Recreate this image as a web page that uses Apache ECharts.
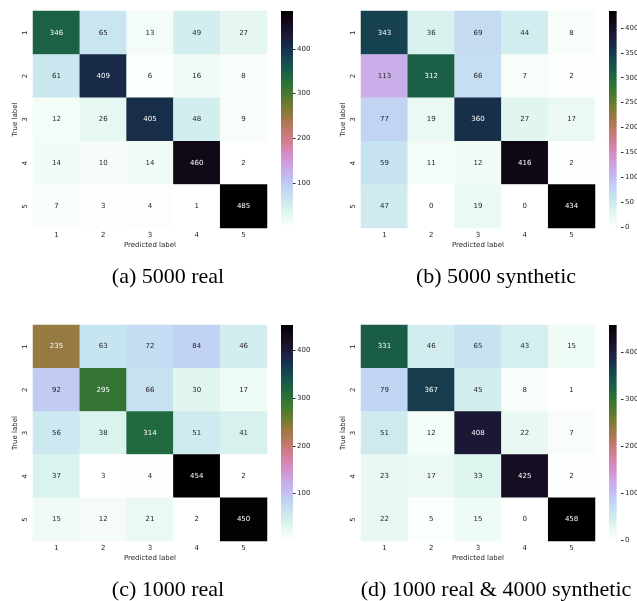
<!DOCTYPE html>
<html>
<head>
  <meta charset="UTF-8">
  <title>confusion matrices</title>
  <script src="https://cdn.jsdelivr.net/npm/echarts@6/dist/echarts.min.js"></script>
  <style>
    *{margin:0;padding:0;}
    body{background:#fff;}
    #main{width:637px;height:601px;}
  </style>
</head>
<body>
<div id="main"></div>
<script>
// class labels
var classes = ['1', '2', '3', '4', '5'];

// confusion matrices (rows = true label, cols = predicted label)
var real5000 = [
  [346, 65, 13, 49, 27],
  [61, 409, 6, 16, 8],
  [12, 26, 405, 48, 9],
  [14, 10, 14, 460, 2],
  [7, 3, 4, 1, 485]
];
var synth5000 = [
  [343, 36, 69, 44, 8],
  [113, 312, 66, 7, 2],
  [77, 19, 360, 27, 17],
  [59, 11, 12, 416, 2],
  [47, 0, 19, 0, 434]
];
var real1000 = [
  [235, 63, 72, 84, 46],
  [92, 295, 66, 30, 17],
  [56, 38, 314, 51, 41],
  [37, 3, 4, 454, 2],
  [15, 12, 21, 2, 450]
];
var mixed = [
  [331, 46, 65, 43, 15],
  [79, 367, 45, 8, 1],
  [51, 12, 408, 22, 7],
  [23, 17, 33, 425, 2],
  [22, 5, 15, 0, 458]
];

// colorbar tick labels
var ticksA = [100, 200, 300, 400];
var ticksB = [0, 50, 100, 150, 200, 250, 300, 350, 400];
var ticksC = [100, 200, 300, 400];
var ticksD = [0, 100, 200, 300, 400];

var captions = ['(a) 5000 real', '(b) 5000 synthetic', '(c) 1000 real', '(d) 1000 real & 4000 synthetic'];

// layout of the four panels
var panels = [
  {m: real5000, ticks: ticksA, left: 33, top: 11, h: 217, capX: 168, capY: 277},
  {m: synth5000, ticks: ticksB, left: 361, top: 11, h: 217, capX: 496, capY: 277},
  {m: real1000, ticks: ticksC, left: 33, top: 325, h: 216, capX: 168, capY: 590},
  {m: mixed, ticks: ticksD, left: 361, top: 325, h: 216, capX: 496, capY: 590}
];

// matplotlib cubehelix (gamma=1, s=0.5, r=-1.5, h=1), reversed
function cubehelix(x) {
  var a = x * (1 - x) / 2;
  var phi = 2 * Math.PI * (0.5 / 3 - 1.5 * x);
  var c = Math.cos(phi), s = Math.sin(phi);
  var rgb = [
    x + a * (-0.14861 * c + 1.78277 * s),
    x + a * (-0.29227 * c - 0.90649 * s),
    x + a * (1.97294 * c)
  ];
  return rgb.map(function (v) { return Math.max(0, Math.min(1, v)); });
}
function cmap(t) { return cubehelix(1 - t); }
function toHex(rgb) {
  return '#' + rgb.map(function (v) {
    var h = Math.round(v * 255).toString(16);
    return h.length < 2 ? '0' + h : h;
  }).join('');
}
function lum(rgb) {
  var l = rgb.map(function (c) { return c <= 0.03928 ? c / 12.92 : Math.pow((c + 0.055) / 1.055, 2.4); });
  return 0.2126 * l[0] + 0.7152 * l[1] + 0.0722 * l[2];
}

var stops = [], gradStops = [];
for (var k = 0; k <= 64; k++) {
  stops.push(toHex(cmap(k / 64)));
  gradStops.push({offset: k / 64, color: toHex(cmap(1 - k / 64))}); // top = max
}

var txt = '#262626';
var font = 'DejaVu Sans';
var grids = [], xAxes = [], yAxes = [], series = [], visualMaps = [], graphics = [];

panels.forEach(function (p, i) {
  var flat = [].concat.apply([], p.m);
  var vmin = Math.min.apply(null, flat), vmax = Math.max.apply(null, flat);
  var cbLeft = p.left + 248;

  grids.push({left: p.left, top: p.top, width: 234, height: p.h});
  grids.push({left: cbLeft, top: p.top, width: 12, height: p.h - 1});

  xAxes.push({
    type: 'category', data: classes, gridIndex: 2 * i, position: 'bottom',
    axisLine: {show: false},
    axisTick: {alignWithLabel: true, length: 3, lineStyle: {color: txt}},
    axisLabel: {fontSize: 7, color: txt, fontFamily: font, margin: 4},
    splitLine: {show: false},
    name: 'Predicted label', nameLocation: 'middle', nameGap: 14,
    nameTextStyle: {fontSize: 7, color: txt, fontFamily: font}
  });
  yAxes.push({
    type: 'category', data: classes, gridIndex: 2 * i, inverse: true,
    axisLine: {show: false},
    axisTick: {alignWithLabel: true, length: 3, lineStyle: {color: txt}},
    axisLabel: {fontSize: 7, color: txt, fontFamily: font, margin: 4, rotate: 90},
    splitLine: {show: false},
    name: 'True label', nameLocation: 'middle', nameGap: 14,
    nameTextStyle: {fontSize: 7, color: txt, fontFamily: font}
  });

  // colorbar axis: left axis shifted onto the bar's right edge, ticks and labels pointing right
  xAxes.push({type: 'value', gridIndex: 2 * i + 1, show: false, min: 0, max: 1});
  yAxes.push({
    type: 'value', gridIndex: 2 * i + 1, position: 'left', offset: -12, min: vmin, max: vmax,
    axisLine: {show: false}, splitLine: {show: false},
    axisTick: {show: true, inside: true, length: 2.5, customValues: p.ticks, lineStyle: {color: txt}},
    axisLabel: {inside: true, fontSize: 7, color: txt, fontFamily: font, margin: 4, customValues: p.ticks}
  });

  var data = [];
  p.m.forEach(function (row, r) {
    row.forEach(function (v, c) {
      var rgb = cmap((v - vmin) / (vmax - vmin));
      data.push({value: [c, r, v], label: {color: lum(rgb) > 0.408 ? txt : '#ffffff'}});
    });
  });
  series.push({
    type: 'heatmap', xAxisIndex: 2 * i, yAxisIndex: 2 * i, data: data,
    label: {show: true, fontSize: 7, fontFamily: font},
    itemStyle: {borderWidth: 0},
    emphasis: {disabled: true}
  });

  visualMaps.push({
    type: 'continuous', seriesIndex: 2 * i, dimension: 2, min: vmin, max: vmax,
    show: false, inRange: {color: stops}
  });

  // colorbar gradient, placed through the colorbar axes
  series.push({
    type: 'custom', xAxisIndex: 2 * i + 1, yAxisIndex: 2 * i + 1, silent: true,
    data: [[0, vmin, 1, vmax]],
    renderItem: function (params, api) {
      var p0 = api.coord([api.value(0), api.value(3)]);
      var p1 = api.coord([api.value(2), api.value(1)]);
      return {
        type: 'rect', z2: 0,
        shape: {x: p0[0], y: p0[1], width: p1[0] - p0[0], height: p1[1] - p0[1]},
        style: {fill: new echarts.graphic.LinearGradient(0, 0, 0, 1, gradStops)}
      };
    }
  });

  graphics.push({
    type: 'text', x: p.capX, y: p.capY,
    style: {text: captions[i], font: '22px "Liberation Serif"', fill: '#000', align: 'center', verticalAlign: 'middle'}
  });
});

var myChart = echarts.init(document.getElementById('main'));
myChart.setOption({
  backgroundColor: '#fff',
  animation: false,
  grid: grids,
  xAxis: xAxes,
  yAxis: yAxes,
  visualMap: visualMaps,
  series: series,
  graphic: graphics
});
</script>
</body>
</html>
